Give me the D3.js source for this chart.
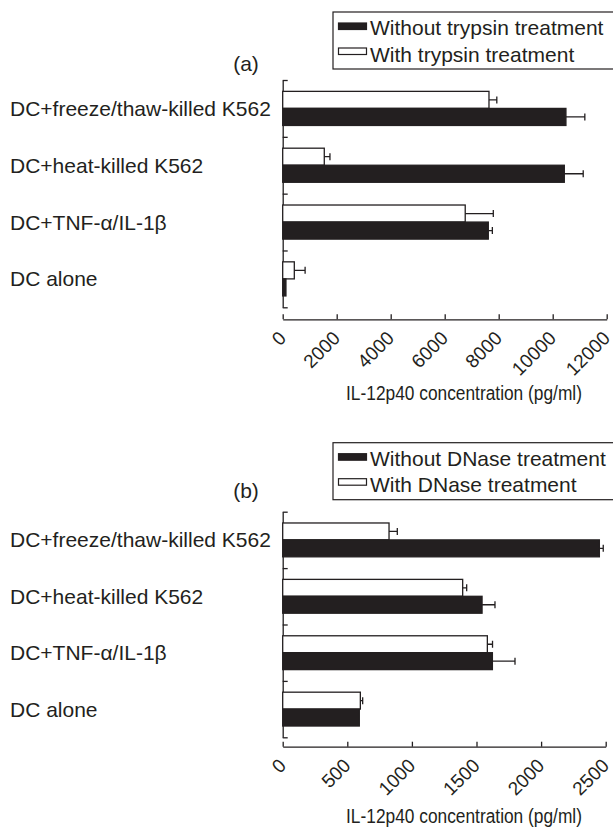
<!DOCTYPE html>
<html>
<head>
<meta charset="utf-8">
<script src="https://cdn.jsdelivr.net/npm/d3@7.9.0/dist/d3.min.js"></script>
<style>
  body { margin: 0; background: #fff; }
  svg text { font-family: "Liberation Sans", Arial, sans-serif; fill: #231f20; }
</style>
</head>
<body>
<svg id="chart" width="613" height="836"></svg>
<script>
// categories, top to bottom (same for both panels)
const categories = ['DC+freeze/thaw-killed K562', 'DC+heat-killed K562', 'DC+TNF-\u03b1/IL-1\u03b2', 'DC alone'];

// panel (a): trypsin
const trypsinWithout = [10490, 10430, 7615, 120];
const trypsinWithoutErr = [700, 700, 150, 0];
const trypsinWith = [7640, 1540, 6760, 430];
const trypsinWithErr = [290, 210, 1040, 400];
const ticksA = [0, 2000, 4000, 6000, 8000, 10000, 12000];

// panel (b): DNase
const dnaseWithout = [2451, 1543, 1623, 593];
const dnaseWithoutErr = [30, 100, 175, 0];
const dnaseWith = [823, 1393, 1584, 601];
const dnaseWithErr = [64, 31, 40, 18];
const ticksB = [0, 500, 1000, 1500, 2000, 2500];

const xTitle = 'IL-12p40 concentration (pg/ml)';
const ink = '#231f20';

const svg = d3.select('#chart');

function drawPanel(opts) {
  const g = svg.append('g');

  let x = d3.scaleLinear().domain([0, opts.ticks[opts.ticks.length - 1]]).range([opts.left, opts.right]);
  let y = d3.scaleBand().domain(categories).range([opts.top, opts.bottom]).paddingInner(0.4).paddingOuter(0.2);
  let sub = d3.scaleBand().domain(['with', 'without']).range([0, y.bandwidth()]);

  // y axis: ticks sit on the band edges
  let yEdges = d3.scaleLinear().domain([0, categories.length]).range([opts.top, opts.bottom]);
  let yAxis = g.append('g')
    .attr('transform', `translate(${opts.left},0)`)
    .call(d3.axisRight(yEdges).tickValues(d3.range(categories.length + 1)).tickFormat('').tickSizeInner(5).tickSizeOuter(0));
  yAxis.selectAll('path, line').attr('stroke', ink).attr('stroke-width', 1.3);

  // x axis, ticks pointing up
  let xAxis = g.append('g')
    .attr('transform', `translate(0,${opts.axisY})`)
    .call(d3.axisBottom(x).tickValues(opts.ticks).tickFormat(d3.format('d')).tickSizeInner(-5).tickSizeOuter(0));
  xAxis.selectAll('path, line').attr('stroke', ink).attr('stroke-width', 1.3);
  xAxis.selectAll('text')
    .attr('y', null).attr('dy', null)
    .attr('text-anchor', 'end')
    .attr('transform', 'translate(4,20) rotate(-45)')
    .style('font-size', '19px')
    .style('font-family', '"Liberation Sans", Arial, sans-serif')
    .attr('fill', ink);

  // category labels
  g.selectAll('.cat')
    .data(categories)
    .join('text')
    .attr('x', 10)
    .attr('y', (d) => y(d) + y.bandwidth() / 2 + 7.5)
    .style('font-size', '21px')
    .text((d) => d);

  // bars
  const series = [
    { key: 'with', values: opts.withVals, errs: opts.withErr, fill: '#fff' },
    { key: 'without', values: opts.withoutVals, errs: opts.withoutErr, fill: ink },
  ];

  series.forEach((s) => {
    let rows = categories.map((c, i) => ({ cat: c, v: s.values[i], e: s.errs[i] }));
    g.selectAll(null)
      .data(rows)
      .join('rect')
      .attr('x', x(0))
      .attr('y', (d) => y(d.cat) + sub(s.key))
      .attr('width', (d) => x(d.v) - x(0))
      .attr('height', sub.bandwidth())
      .attr('fill', s.fill)
      .attr('stroke', ink)
      .attr('stroke-width', 1.3);

    let errRows = rows.filter((d) => d.e > 0);
    let cy = (d) => y(d.cat) + sub(s.key) + sub.bandwidth() / 2;
    g.selectAll(null)
      .data(errRows)
      .join('path')
      .attr('d', (d) => `M${x(d.v)},${cy(d)}H${x(d.v + d.e)}M${x(d.v + d.e)},${cy(d) - 3.5}V${cy(d) + 3.5}`)
      .attr('fill', 'none')
      .attr('stroke', ink)
      .attr('stroke-width', 1.3);
  });

  // axis title, squeezed sideways like the narrow face in the figure
  g.append('text')
    .attr('transform', `translate(464,${opts.axisY + opts.titleGap}) scale(0.825,1)`)
    .attr('text-anchor', 'middle')
    .style('font-size', '21px')
    .text(xTitle);

  // panel letter
  g.append('text')
    .attr('x', 246)
    .attr('y', opts.letterY)
    .attr('text-anchor', 'middle')
    .style('font-size', '21px')
    .text(opts.letter);

  // legend
  let lg = g.append('g').attr('transform', `translate(333,${opts.legendY})`);
  lg.append('rect')
    .attr('x', 0).attr('y', 0).attr('width', 290).attr('height', 57)
    .attr('fill', '#fff').attr('stroke', ink).attr('stroke-width', 1.2);
  opts.legendText.forEach((t, i) => {
    lg.append('rect')
      .attr('x', 5.5).attr('y', 11 + i * 25).attr('width', 28).attr('height', 6.5)
      .attr('fill', i === 0 ? ink : '#fff')
      .attr('stroke', ink).attr('stroke-width', 1.2);
    lg.append('text')
      .attr('x', 37).attr('y', 23 + i * 26.5)
      .style('font-size', '21px')
      .text(t);
  });
}

drawPanel({
  ticks: ticksA, left: 282.7, right: 606.7, top: 80, bottom: 307.3, axisY: 319.3,
  withVals: trypsinWith, withErr: trypsinWithErr,
  withoutVals: trypsinWithout, withoutErr: trypsinWithoutErr,
  titleGap: 81, letter: '(a)', letterY: 71, legendY: 12,
  legendText: ['Without trypsin treatment', 'With trypsin treatment'],
});

drawPanel({
  ticks: ticksB, left: 282.7, right: 605.7, top: 511.7, bottom: 737.3, axisY: 746.7,
  withVals: dnaseWith, withErr: dnaseWithErr,
  withoutVals: dnaseWithout, withoutErr: dnaseWithoutErr,
  titleGap: 76, letter: '(b)', letterY: 498, legendY: 442.7,
  legendText: ['Without DNase treatment', 'With DNase treatment'],
});
</script>
</body>
</html>
